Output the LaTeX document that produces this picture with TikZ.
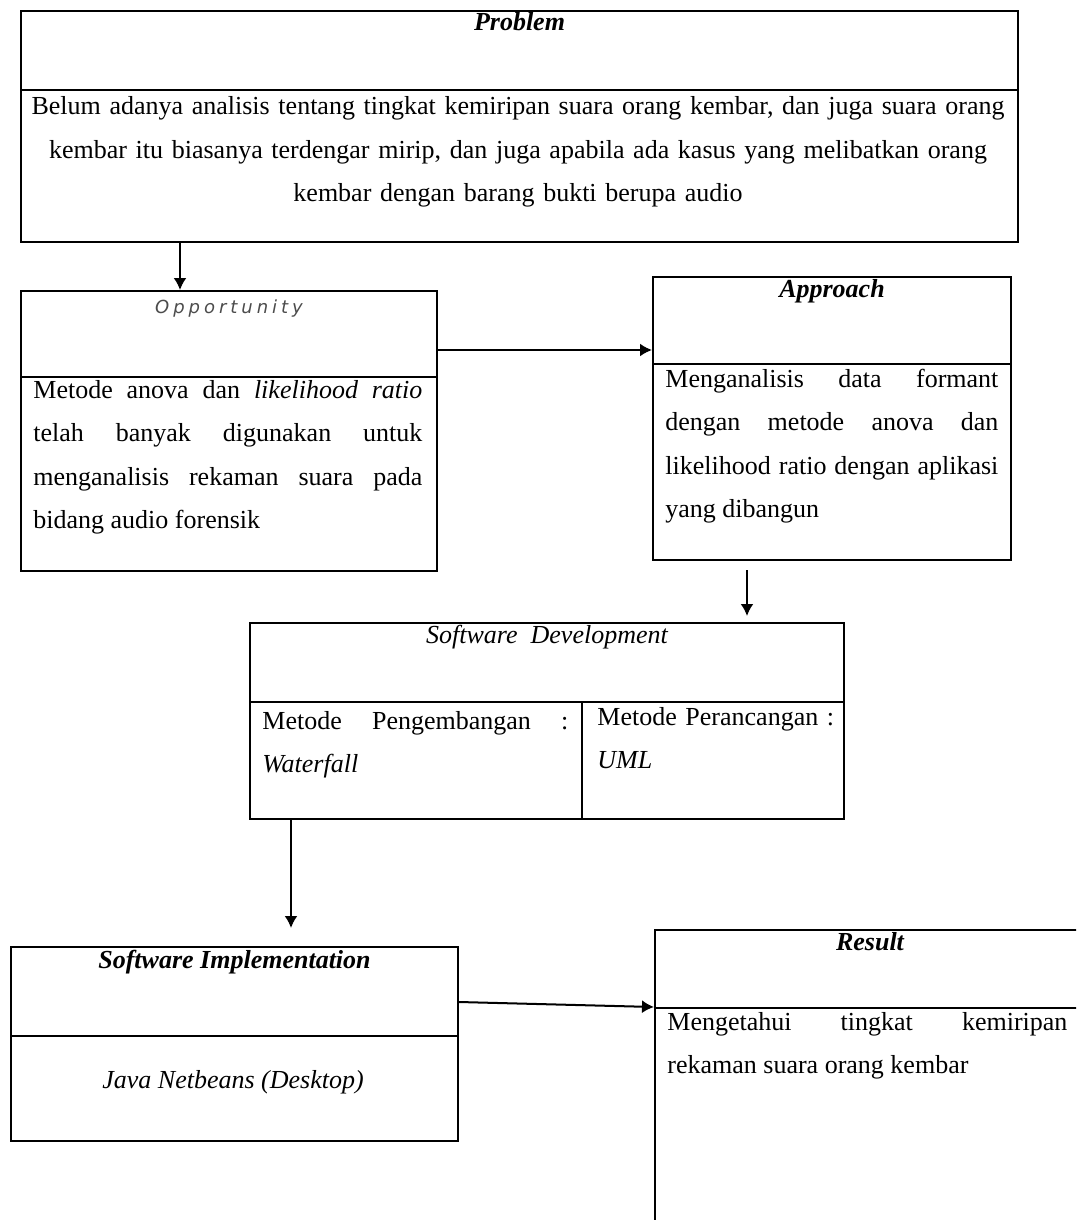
\documentclass[tikz,border=0pt]{standalone}
\usepackage{fontspec}
\setmainfont{Liberation Serif}
\newfontfamily\oppfont[LetterSpace=22]{DejaVu Sans}
\usetikzlibrary{arrows.meta}

\tikzset{
  box/.style={draw, line width=1pt, inner sep=0pt, anchor=north west},
  title/.style={anchor=base, inner sep=0pt, yshift=-10.5pt, font=\fontsize{13}{16}\selectfont\bfseries\itshape},
  body/.style={anchor=base west, inner sep=0pt, align=justify, font=\fontsize{13}{21.75}\selectfont},
  arr/.style={-{Latex[length=6pt,width=6.5pt]}, line width=1pt}
}

\begin{document}
\begin{tikzpicture}[x=0.5pt, y=-0.5pt]
\clip (0,0) rectangle (1076,1220);
\fill[white] (0,0) rectangle (1076,1220);

\node[box, minimum width=498.5pt, minimum height=115.5pt] at (20,10) (problem){};
\draw[line width=1pt] (problem.west |- 0,90) -- (problem.east |- 0,90);
\node[title] at (problem.north) (problemtitle) {Problem};
\node[body, anchor=base, align=center, text width=490pt] at (518,115) (problemtext)
  {Belum adanya analisis tentang tingkat kemiripan suara orang kembar, dan juga suara orang\\
   kembar itu biasanya terdengar mirip, dan juga apabila ada kasus yang melibatkan orang\\
   kembar dengan barang bukti berupa audio};

\node[box, minimum width=208pt, minimum height=140pt] at (20,290) (opp){};
\draw[line width=1pt] (opp.west |- 0,377) -- (opp.east |- 0,377);
\node[title, yshift=-1pt, font=\fontsize{9}{11}\oppfont\itshape, text=black!70] at (opp.north) (opptitle) {Opportunity};
\node[body, text width=194.5pt] at (33,398) (opptext)
  {Metode anova dan \textit{likelihood ratio}\linebreak telah banyak digunakan untuk\linebreak
   menganalisis rekaman suara pada\linebreak bidang audio forensik};

\node[box, minimum width=179pt, minimum height=141.5pt] at (652,276) (app){};
\draw[line width=1pt] (app.west |- 0,364) -- (app.east |- 0,364);
\node[title] at (app.north) (apptitle) {Approach};
\node[body, text width=166.5pt] at (665,387) (apptext)
  {Menganalisis data formant\linebreak dengan metode anova dan\linebreak
   likelihood ratio dengan aplikasi\linebreak yang dibangun};

\node[box, minimum width=297pt, minimum height=98pt] at (249,622) (sd){};
\draw[line width=1pt] (sd.west |- 0,702) -- (sd.east |- 0,702);
\draw[line width=1pt] (582,702) -- (sd.south -| 582,0); % split
\node[title, font=\fontsize{13}{16}\selectfont\itshape] at (sd.north) (sdtitle) {Software\ \ Development};
\node[body, text width=153pt] at (262,729) (sdleft)
  {Metode Pengembangan :\linebreak \textit{Waterfall}};
\node[body, align=left, text width=120pt] at (597,725) (sdright)
  {Metode Perancangan :\\ \textit{UML}};

\node[box, minimum width=223.5pt, minimum height=97pt] at (10,946) (si){};
\draw[line width=1pt] (si.west |- 0,1036) -- (si.east |- 0,1036);
\node[title, yshift=-0.5pt] at (si.north) (sititle) {Software Implementation};
\node[body, anchor=base, font=\fontsize{13}{16}\selectfont\itshape] at (233,1088) (sitext) {Java Netbeans (Desktop)};

\node[box, minimum width=215pt, minimum height=200pt] at (654,929) (res){};
\draw[line width=1pt] (res.west |- 0,1008) -- (res.east |- 0,1008);
\node[title] at (res.north) (restitle) {Result};
\node[body, text width=200pt] at (667,1030) (restext)
  {Mengetahui tingkat kemiripan\linebreak rekaman suara orang kembar};

% flow
\draw[arr] (problem.south -| 180,0) -- (opp.north -| 180,0);
\draw[arr] (opp.east |- 0,350) -- (app.west |- 0,350);
\draw[arr, shorten <=4.5pt, shorten >=3pt] (app.south -| 747,0) -- (sd.north -| 747,0);
\draw[arr, shorten >=9pt] (sd.south -| 291,0) -- (si.north -| 291,0);
\draw[arr] (si.east |- 0,1002) -- (res.west |- 0,1007);

\end{tikzpicture}
\end{document}
